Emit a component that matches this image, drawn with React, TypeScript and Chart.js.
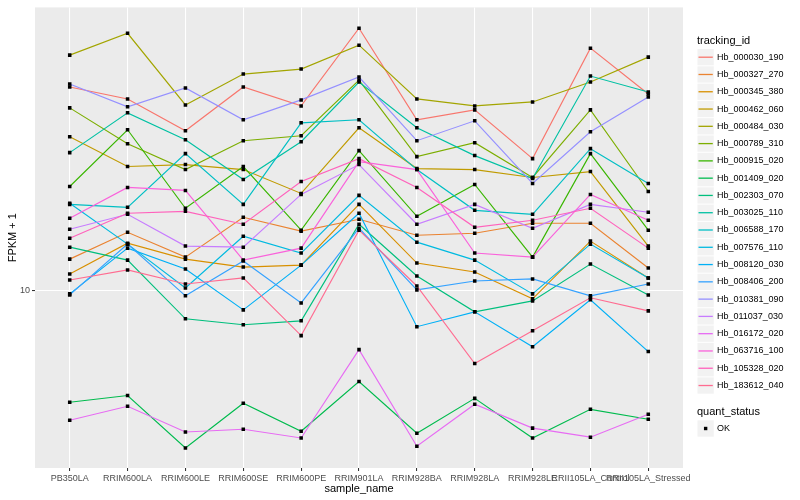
import React, { useEffect, useRef } from "react";
import Chart from "chart.js/auto";

const FONT = "'Liberation Sans', Arial, Helvetica, sans-serif";

const sampleNames = [
  "PB350LA", "RRIM600LA", "RRIM600LE", "RRIM600SE", "RRIM600PE", "RRIM901LA",
  "RRIM928BA", "RRIM928LA", "RRIM928LE", "RRII105LA_Control", "RRII105LA_Stressed",
];

const yTickValues = [10];

const trackingIds = [
  "Hb_000030_190", "Hb_000327_270", "Hb_000345_380", "Hb_000462_060", "Hb_000484_030",
  "Hb_000789_310", "Hb_000915_020", "Hb_001409_020", "Hb_002303_070", "Hb_003025_110",
  "Hb_006588_170", "Hb_007576_110", "Hb_008120_030", "Hb_008406_200", "Hb_010381_090",
  "Hb_011037_030", "Hb_016172_020", "Hb_063716_100", "Hb_105328_020", "Hb_183612_040",
];

const colors = [
  "#F8766D", "#EA8331", "#D89000", "#C09B00", "#A3A500",
  "#7CAE00", "#39B600", "#00BB4E", "#00BF7D", "#00C1A3",
  "#00BFC4", "#00BAE0", "#00B0F6", "#35A2FF", "#9590FF",
  "#C77CFF", "#E76BF3", "#FA62DB", "#FF62BC", "#FF6C91",
];

// FPKM + 1 values per sample (same order as sampleNames)
const hb000030_190 = [32.55, 30.37, 25.26, 32.55, 29.17, 45.71, 26.92, 28.51, 21.5, 40.74, 31.26];
const hb000327_270 = [12.02, 14.04, 12.16, 15.31, 14.13, 15.14, 13.8, 13.96, 14.79, 14.79, 11.42];
const hb000345_380 = [11.03, 13.18, 12.02, 11.48, 11.61, 16.5, 11.75, 11.16, 9.55, 13.34, 10.78];
const hb000462_060 = [24.41, 20.54, 20.77, 20.18, 17.58, 25.7, 20.3, 20.18, 19.28, 19.95, 12.96];
const hb000484_030 = [39.13, 44.41, 29.34, 35.07, 36.1, 41.45, 30.37, 29.17, 29.85, 33.5, 38.68];
const hb000789_310 = [28.84, 23.44, 20.18, 23.85, 24.55, 33.88, 21.75, 23.58, 19.28, 28.51, 17.78];
const hb000915_020 = [18.3, 25.41, 16.13, 20.54, 14.21, 22.52, 15.4, 18.51, 12.16, 22.13, 14.21];
const hb001409_020 = [5.25, 5.46, 4.03, 5.22, 4.44, 5.92, 4.39, 5.37, 4.27, 5.04, 4.76];
const hb002303_070 = [12.88, 11.95, 8.51, 8.22, 8.41, 14.71, 10.9, 8.86, 9.44, 11.68, 9.77];
const hb003025_110 = [22.26, 28.02, 23.99, 19.05, 23.71, 33.5, 25.7, 21.88, 19.16, 34.67, 31.62];
const hb006588_170 = [16.5, 16.22, 22.13, 16.5, 26.45, 26.92, 20.18, 15.94, 15.58, 22.78, 18.62];
const hb007576_110 = [16.6, 13.11, 10.17, 13.72, 12.45, 17.38, 13.26, 11.95, 9.83, 13.11, 10.78];
const hb008120_030 = [9.83, 12.81, 11.35, 8.96, 11.61, 15.67, 8.13, 8.86, 7.24, 9.5, 7.04];
const hb008406_200 = [9.77, 13.11, 9.72, 11.89, 9.33, 14.37, 10.06, 10.59, 10.72, 9.72, 10.41];
const hb010381_090 = [33.11, 29.01, 32.36, 26.92, 30.2, 34.47, 23.85, 26.76, 18.62, 25.12, 30.73];
const hb011037_030 = [14.29, 15.58, 12.96, 12.88, 17.48, 20.77, 14.71, 16.5, 14.37, 16.5, 15.76];
const hb016172_020 = [4.73, 5.13, 4.42, 4.49, 4.27, 7.12, 4.07, 5.19, 4.52, 4.29, 4.9];
const hb063716_100 = [15.22, 18.2, 17.89, 11.95, 12.81, 21.13, 20.18, 12.45, 12.16, 17.48, 15.05];
const hb105328_020 = [13.57, 15.67, 15.85, 14.71, 18.84, 21.5, 18.2, 14.45, 15.05, 16.13, 12.81];
const hb183612_040 = [10.65, 11.29, 10.41, 10.78, 7.72, 14.21, 10.29, 6.57, 7.94, 9.61, 8.91];

const seriesValues = [
  hb000030_190, hb000327_270, hb000345_380, hb000462_060, hb000484_030,
  hb000789_310, hb000915_020, hb001409_020, hb002303_070, hb003025_110,
  hb006588_170, hb007576_110, hb008120_030, hb008406_200, hb010381_090,
  hb011037_030, hb016172_020, hb063716_100, hb105328_020, hb183612_040,
];

const quantStatus = ["OK"];

const panelBg = {
  id: "panelBg",
  beforeDraw(chart: any) {
    const { ctx, chartArea } = chart;
    ctx.save();
    ctx.fillStyle = "#EBEBEB";
    ctx.fillRect(chartArea.left, chartArea.top, chartArea.width, chartArea.height);
    ctx.restore();
  },
};

const ggLegend = {
  id: "ggLegend",
  afterDraw(chart: any) {
    const ctx = chart.ctx;
    const kx = 697;
    const ks = 17.28;
    ctx.save();
    ctx.textBaseline = "middle";
    ctx.textAlign = "left";
    ctx.fillStyle = "#000000";
    ctx.font = `11px ${FONT}`;
    ctx.fillText("tracking_id", kx, 40.5);
    ctx.font = `9px ${FONT}`;
    trackingIds.forEach((name, i) => {
      const cy = 57.2 + i * ks;
      ctx.fillStyle = "#F2F2F2";
      ctx.fillRect(kx + 0.5, cy - ks / 2 + 0.5, ks - 1, ks - 1);
      ctx.strokeStyle = colors[i];
      ctx.lineWidth = 1.3;
      ctx.beginPath();
      ctx.moveTo(kx + 1.5, cy);
      ctx.lineTo(kx + ks - 1.5, cy);
      ctx.stroke();
      ctx.fillStyle = "#000000";
      ctx.fillText(name, kx + 20, cy);
    });
    ctx.font = `11px ${FONT}`;
    ctx.fillText("quant_status", kx, 412);
    ctx.font = `9px ${FONT}`;
    quantStatus.forEach((s, i) => {
      const cy = 428.5 + i * ks;
      ctx.fillStyle = "#F2F2F2";
      ctx.fillRect(kx + 0.5, cy - ks / 2 + 0.5, ks - 1, ks - 1);
      ctx.fillStyle = "#000000";
      ctx.fillRect(kx + ks / 2 - 1.7, cy - 1.7, 3.4, 3.4);
      ctx.fillText(s, kx + 20, cy);
    });
    ctx.restore();
  },
};

export default function App() {
  const ref = useRef<HTMLCanvasElement | null>(null);

  useEffect(() => {
    if (!ref.current) return;
    const n = trackingIds.length;
    const lineSets = seriesValues.map((vals, i) => ({
      label: trackingIds[i],
      data: vals.map((v, j) => ({ x: j, y: v })),
      borderColor: colors[i],
      backgroundColor: colors[i],
      borderWidth: 1.15,
      pointRadius: 0,
      tension: 0,
      fill: false,
      order: n - i + 1,
    }));
    const pointSets = seriesValues.map((vals, i) => ({
      label: trackingIds[i] + " OK",
      data: vals.map((v, j) => ({ x: j, y: v })),
      showLine: false,
      pointStyle: "rect",
      pointRadius: 2.5,
      pointBorderWidth: 0,
      pointBackgroundColor: "#000000",
      pointBorderColor: "#000000",
      order: 0,
    }));

    const gridCommon = {
      color: "#FFFFFF",
      lineWidth: 1.07,
      tickColor: "#333333",
      tickLength: 3,
      drawTicks: true,
    };

    const chart = new Chart(ref.current, {
      type: "line",
      data: { datasets: [...lineSets, ...pointSets] as any },
      plugins: [panelBg, ggLegend],
      options: {
        animation: false,
        responsive: false,
        devicePixelRatio: 1,
        layout: { padding: { left: 0, top: 5, right: 117, bottom: 0 } },
        plugins: {
          legend: { display: false },
          tooltip: { enabled: false },
        },
        scales: {
          x: {
            type: "linear",
            min: -0.6,
            max: 10.6,
            bounds: "data",
            afterBuildTicks: (s: any) => {
              s.ticks = sampleNames.map((_, i) => ({ value: i }));
            },
            afterFit: (s: any) => {
              s.height = 32;
            },
            grid: gridCommon,
            border: { display: false },
            ticks: {
              autoSkip: false,
              maxRotation: 0,
              minRotation: 0,
              padding: 2,
              color: "#4D4D4D",
              font: { size: 9, family: FONT },
              callback: (_v: any, idx: number) => sampleNames[idx],
            },
            title: {
              display: true,
              text: "sample_name",
              color: "#000000",
              font: { size: 11, family: FONT },
              padding: { top: 0, bottom: 4 },
            },
          },
          y: {
            type: "logarithmic",
            min: 3.589,
            max: 51.58,
            bounds: "data",
            afterBuildTicks: (s: any) => {
              s.ticks = yTickValues.map((v) => ({ value: v }));
            },
            afterFit: (s: any) => {
              s.width = 35;
            },
            grid: gridCommon,
            border: { display: false },
            ticks: {
              padding: 2,
              color: "#4D4D4D",
              font: { size: 9, family: FONT },
              callback: (v: any) => String(v),
            },
            title: {
              display: true,
              text: "FPKM + 1",
              color: "#000000",
              font: { size: 11, family: FONT },
              padding: { top: 6, bottom: 0 },
            },
          },
        },
      } as any,
    });
    return () => chart.destroy();
  }, []);

  return (
    <div style={{ position: "absolute", left: 0, top: 0, width: 800, height: 500, background: "#FFFFFF" }}>
      <canvas ref={ref} width={800} height={500} style={{ width: 800, height: 500, display: "block" }} />
    </div>
  );
}
